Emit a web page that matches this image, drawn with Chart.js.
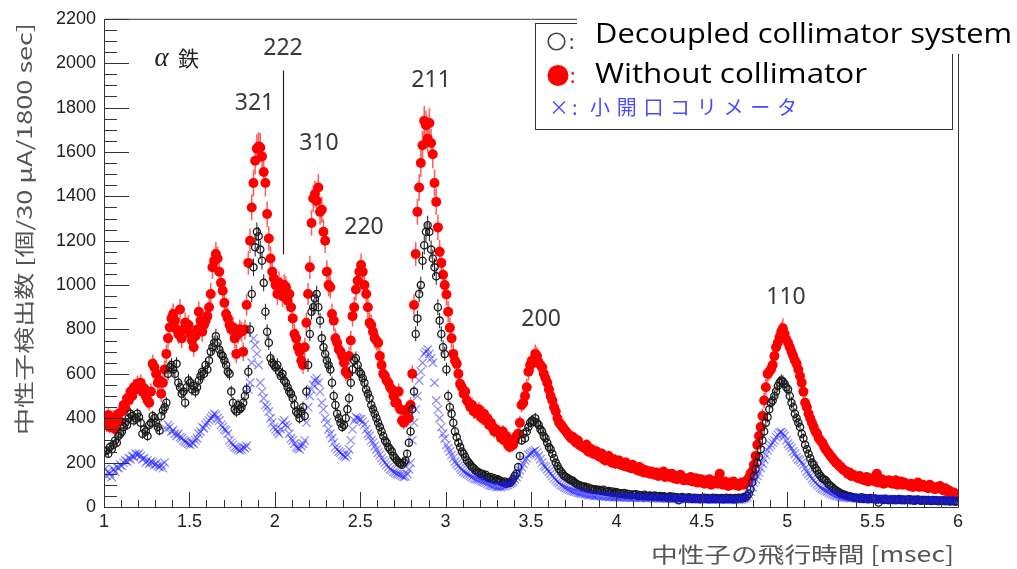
<!DOCTYPE html>
<html><head><meta charset="utf-8">
<script src="https://cdn.jsdelivr.net/npm/chart.js@4.4.1/dist/chart.umd.min.js"></script>
<style>html,body{margin:0;padding:0;background:#fff}canvas{display:block}</style>
</head><body>
<canvas id="c" width="1017" height="569"></canvas>
<script>
// ---- Data (histogram bins of 0.01 msec starting at 1.00 msec) ----
const binStart = 1.00;
const binWidth = 0.01;
const xTickValues = [1, 1.5, 2, 2.5, 3, 3.5, 4, 4.5, 5, 5.5, 6];
const yTickValues = [0, 200, 400, 600, 800, 1000, 1200, 1400, 1600, 1800, 2000, 2200];
const seriesNames = ['Decoupled collimator system', 'Without collimator', '小開口コリメータ'];
const peakLabels = ['222', '321', '310', '220', '211', '200', '110'];
const peakLabelX = [2.048, 1.881, 2.259, 2.522, 2.915, 3.559, 4.993];
const peakLabelY = [2039, 1788, 1608, 1228, 1891, 815, 914];

const withoutCollimator = [
400,370,415,360,390,405,350,395,420,385,
430,460,445,490,480,520,500,540,530,555,
545,560,520,535,500,480,470,520,645,630,
600,560,570,510,560,620,690,760,810,850,
870,840,800,780,890,760,800,830,810,820,
780,750,720,770,800,880,840,790,820,840,
860,900,960,1080,1110,1140,1120,1060,1010,975,
920,870,850,820,800,810,760,690,780,800,
790,700,800,910,1100,1200,1350,1460,1560,1615,
1625,1620,1580,1510,1460,1320,1210,1120,1060,1030,
1000,960,1010,985,950,1000,990,930,960,900,
850,780,760,720,700,660,640,720,830,960,
1080,1280,1390,1410,1380,1440,1330,1340,1240,1200,
1060,1000,990,870,840,760,740,710,700,680,
650,610,600,680,750,860,900,980,1020,1060,
1090,1060,1000,960,900,830,820,790,760,750,
740,680,640,600,590,570,560,540,530,500,
470,470,520,440,390,380,430,440,400,460,
600,910,1140,1330,1440,1550,1630,1740,1720,1660,
1730,1640,1590,1460,1375,1260,1150,1100,1047,1000,
958,880,808,760,690,660,645,600,555,540,
510,520,480,470,450,460,430,440,420,440,
410,400,420,390,400,370,380,360,340,350,
340,330,310,340,300,320,280,270,300,280,
300,320,330,380,460,470,500,540,610,640,
660,650,690,680,650,640,630,600,580,560,
530,500,480,450,430,400,380,370,360,350,
340,330,320,310,315,300,290,300,280,275,
270,265,280,250,255,260,240,245,250,230,
225,240,215,210,220,230,205,200,215,195,
200,210,190,195,185,200,180,185,175,190,
175,170,165,180,160,170,155,165,160,150,
160,150,145,155,140,150,145,160,135,150,
140,135,150,130,140,125,135,145,130,120,
130,125,120,135,115,125,130,110,120,125,
115,105,120,110,125,100,115,110,120,105,
150,110,100,115,105,95,110,100,115,100,
100,95,105,110,100,115,110,130,150,160,
190,230,280,320,360,410,480,540,600,610,
620,640,680,720,740,765,790,805,780,755,
740,720,700,680,660,645,620,590,560,520,
470,450,420,400,380,360,340,330,310,300,
290,275,260,250,240,230,220,210,200,195,
185,180,170,165,160,150,155,140,145,140,
135,130,140,125,130,120,135,115,125,130,
120,115,150,110,120,125,105,115,110,120,
115,105,110,120,100,105,115,100,110,105,
100,95,105,90,100,95,110,90,95,100,
90,95,85,100,90,85,80,90,85,95,
80,75,85,70,75,70,60,65,55,50
];

const decoupled = [
250,255,240,270,260,280,300,290,320,330,
340,360,380,370,400,420,410,390,400,420,
405,380,330,350,340,320,370,380,410,400,
380,360,345,410,435,450,470,600,630,640,
620,600,645,560,540,510,520,470,540,570,
560,530,545,520,540,570,590,610,600,640,
620,660,700,720,740,770,740,710,690,680,
660,640,610,600,520,470,440,430,460,440,
450,470,500,530,610,800,960,1080,1170,1240,
1220,1160,1110,1010,880,790,740,670,650,640,
630,640,610,590,600,570,560,540,520,510,
490,460,430,420,400,430,450,410,520,640,
780,880,900,940,960,900,840,760,720,690,
660,640,620,560,500,460,420,400,380,360,
370,400,440,490,560,620,660,670,640,610,
600,580,560,530,510,490,460,440,420,400,
380,360,340,320,300,290,270,260,250,230,
220,210,200,195,190,200,210,240,290,340,
440,520,780,850,960,1000,1110,1180,1240,1270,
1240,1160,1120,1080,1040,900,840,780,720,690,
620,500,450,420,380,340,315,290,270,250,
240,225,210,200,190,180,175,165,160,155,
150,150,140,145,135,130,135,125,130,120,
125,120,115,110,115,105,110,108,115,125,
140,150,180,230,300,330,310,340,360,380,
390,385,400,380,370,350,340,320,310,290,
270,260,240,220,200,185,170,160,150,140,
135,130,125,120,118,110,105,100,98,95,
90,92,85,88,80,82,78,80,75,78,
75,72,78,70,68,72,65,70,62,68,
65,60,62,58,63,55,60,58,52,56,
55,58,50,54,52,48,55,50,47,52,
50,46,52,48,45,50,44,48,46,42,
45,48,42,46,40,44,30,42,45,40,
42,38,44,40,36,42,38,40,35,40,
38,42,36,40,35,38,42,36,40,38,
36,40,35,38,42,36,40,38,35,40,
38,42,40,38,45,42,50,60,80,110,
140,170,200,225,260,300,340,380,405,440,
470,480,500,520,545,560,570,565,555,540,
530,500,470,450,420,400,380,360,330,310,
280,260,240,220,200,190,175,165,150,140,
130,125,120,110,100,95,88,80,75,70,
65,60,58,55,52,50,48,46,44,42,
42,40,38,44,36,40,38,35,40,37,
36,38,34,20,36,35,32,37,34,30,
34,32,35,30,33,36,31,34,30,33,
32,35,30,33,28,32,34,30,28,31,
30,28,32,29,27,31,28,30,26,29,
28,30,26,29,27,25,28,26,24,27
];

const smallAperture = [
170,140,160,150,135,170,160,180,175,190,
185,200,210,205,220,215,230,225,240,235,
240,230,215,220,200,210,195,205,200,190,
195,185,180,190,175,200,350,370,360,340,
345,330,320,330,315,310,300,295,290,285,
280,290,285,300,310,330,340,360,355,370,
380,390,400,410,420,415,400,390,370,360,
350,345,330,300,290,280,270,265,260,255,
260,270,265,275,530,560,650,760,730,690,
640,560,520,490,460,450,430,400,380,360,
350,340,330,350,380,390,370,360,330,310,
300,285,270,265,260,275,285,300,380,450,
500,530,550,570,580,560,520,470,440,400,
380,350,330,310,290,270,260,250,245,235,
230,225,235,260,300,350,390,405,400,395,
395,385,370,350,330,320,300,290,275,260,
245,235,220,210,200,190,180,170,165,158,
155,150,148,145,140,136,138,150,170,200,
300,380,440,500,570,610,650,690,700,710,
690,670,650,560,480,440,400,360,330,310,
280,265,250,235,220,205,195,185,175,168,
160,155,150,145,140,135,130,127,125,122,
120,115,112,110,105,100,98,95,95,92,
90,92,90,95,93,98,100,105,108,115,
125,135,150,165,180,195,210,220,235,240,
245,250,255,245,230,215,200,185,180,170,
160,150,140,130,122,115,108,100,95,90,
86,82,78,75,72,70,68,65,63,62,
60,58,57,55,54,55,52,50,52,50,
50,48,49,47,48,46,45,47,44,46,
45,44,46,43,45,42,44,43,41,44,
43,42,44,41,40,43,42,40,41,42,
40,42,39,41,40,38,41,39,40,38,
39,40,38,37,39,38,36,38,37,39,
38,36,37,39,35,37,38,36,35,37,
36,35,37,34,36,35,34,36,33,35,
35,34,33,36,34,33,35,32,34,33,
34,33,35,34,38,40,45,55,70,90,
110,125,140,155,175,195,215,235,255,270,
280,290,300,315,325,335,338,330,320,300,
285,275,265,250,240,225,215,210,200,190,
175,160,150,140,128,120,110,102,95,88,
82,78,74,70,66,62,58,55,52,50,
48,46,45,44,42,43,41,40,42,40,
39,40,38,37,39,36,38,37,36,38,
37,36,35,37,34,36,35,34,36,33,
35,34,33,35,32,34,33,32,34,31,
33,32,34,31,33,30,32,31,33,30,
32,30,31,29,31,30,28,30,29,31,
30,29,31,28,30,29,27,29,28,30
];

// bin centres
const tof = withoutCollimator.map((_, i) => +(binStart + binWidth * (i + 0.5)).toFixed(3));
const toPoints = arr => arr.map((v, i) => ({ x: tof[i], y: v }));

// ---- helpers ----
function fitText(ctx, text, x, y, width, align) {
  ctx.save();
  const nat = ctx.measureText(text).width;
  const s = width / nat;
  ctx.translate(x, y);
  ctx.scale(s, 1);
  ctx.textAlign = align || 'left';
  ctx.fillText(text, 0, 0);
  ctx.restore();
}

const errorBars = {
  id: 'errorBars',
  beforeDatasetDraw(chart, args) {
    const ds = chart.data.datasets[args.index];
    if (!ds.errScale) return;
    const ctx = chart.ctx, ys = chart.scales.y, a = chart.chartArea;
    ctx.save();
    ctx.beginPath(); ctx.rect(a.left, a.top, a.right - a.left, a.bottom - a.top); ctx.clip();
    ctx.strokeStyle = ds.errColor; ctx.lineWidth = ds.errWidth;
    ctx.beginPath();
    args.meta.data.forEach((pt, i) => {
      const v = ds.data[i].y, e = ds.errScale * Math.sqrt(v);
      ctx.moveTo(pt.x, ys.getPixelForValue(v - e));
      ctx.lineTo(pt.x, ys.getPixelForValue(v + e));
    });
    ctx.stroke();
    ctx.restore();
  }
};

const frame = {
  id: 'frame',
  afterDatasetsDraw(chart) {
    const ctx = chart.ctx, a = chart.chartArea, xs = chart.scales.x, ys = chart.scales.y;
    ctx.save();
    ctx.strokeStyle = '#333'; ctx.lineWidth = 1;
    ctx.beginPath();
    ctx.moveTo(a.left + 0.5, a.top + 0.5); ctx.lineTo(a.left + 0.5, a.bottom + 0.5);
    ctx.lineTo(a.right + 0.5, a.bottom + 0.5); ctx.lineTo(a.right + 0.5, a.top + 0.5);
    ctx.lineTo(a.left + 0.5, a.top + 0.5);
    for (let v = 0; v <= 2200; v += 50) {
      const yy = Math.round(ys.getPixelForValue(v)) + 0.5;
      const len = (v % 200 === 0) ? 25 : 13;
      ctx.moveTo(a.left, yy); ctx.lineTo(a.left + len, yy);
    }
    for (let k = 10; k <= 60; k++) {
      const xx = Math.round(xs.getPixelForValue(k / 10)) + 0.5;
      const len = (k % 5 === 0) ? 15 : 7;
      ctx.moveTo(xx, a.bottom); ctx.lineTo(xx, a.bottom - len);
    }
    ctx.stroke();
    ctx.restore();
  },
  afterDraw(chart) {
    const ctx = chart.ctx, xs = chart.scales.x, ys = chart.scales.y;
    ctx.save();
    ctx.fillStyle = '#383838';
    ctx.font = '23px "Noto Sans"';
    ctx.textAlign = 'center'; ctx.textBaseline = 'alphabetic';
    peakLabels.forEach((t, i) => ctx.fillText(t, xs.getPixelForValue(peakLabelX[i]), ys.getPixelForValue(peakLabelY[i])));
    ctx.strokeStyle = '#222'; ctx.lineWidth = 1.2;
    ctx.beginPath();
    const lx = Math.round(xs.getPixelForValue(2.05)) + 0.5;
    ctx.moveTo(lx, ys.getPixelForValue(1967)); ctx.lineTo(lx, ys.getPixelForValue(1138));
    ctx.stroke();
    ctx.fillStyle = '#222'; ctx.textAlign = 'left'; ctx.textBaseline = 'middle';
    ctx.font = 'italic 27px "Liberation Serif"';
    ctx.fillText('α', xs.getPixelForValue(1.296), ys.getPixelForValue(2020));
    ctx.font = '21px "Noto Sans CJK JP"';
    ctx.fillText('鉄', xs.getPixelForValue(1.433), ys.getPixelForValue(2025));

    ctx.fillStyle = '#555';
    ctx.font = '20px "Noto Sans CJK JP"';
    ctx.textBaseline = 'middle';
    ctx.save();
    ctx.translate(24, 229); ctx.rotate(-Math.PI / 2);
    fitText(ctx, '中性子検出数 [個/30 μA/1800 sec]', 0, 0, 412, 'center');
    ctx.restore();
    ctx.font = '21px "Noto Sans CJK JP"';
    fitText(ctx, '中性子の飛行時間 [msec]', 954, 554, 303, 'right');

    ctx.fillStyle = '#fff';
    ctx.fillRect(535, 23, 418, 107);
    ctx.strokeStyle = '#333'; ctx.lineWidth = 1;
    ctx.strokeRect(535.5, 23.5, 417, 106);
    ctx.fillStyle = '#fff';
    ctx.fillRect(577, 0, 440, 54);
    ctx.strokeStyle = '#444'; ctx.lineWidth = 1.6;
    ctx.beginPath(); ctx.arc(556.5, 41.5, 8.3, 0, Math.PI * 2); ctx.stroke();
    ctx.fillStyle = '#444'; ctx.textBaseline = 'alphabetic'; ctx.textAlign = 'left';
    ctx.font = '20px "Noto Sans"';
    ctx.fillText(':', 569, 49);
    ctx.fillStyle = '#000';
    ctx.font = '27px "Open Sans"';
    fitText(ctx, seriesNames[0], 595, 43, 417, 'left');
    ctx.fillStyle = '#ff0000';
    ctx.beginPath(); ctx.arc(558, 75.5, 10.5, 0, Math.PI * 2); ctx.fill();
    ctx.font = '20px "Noto Sans"';
    ctx.fillText(':', 570, 83);
    ctx.fillStyle = '#000';
    ctx.font = '27px "Open Sans"';
    fitText(ctx, seriesNames[1], 595, 83, 272, 'left');
    ctx.fillStyle = '#4a4aff';
    ctx.font = '20px "Noto Sans CJK JP"';
    ctx.textBaseline = 'middle';
    ctx.fillText('×', 549, 107);
    ctx.fillText(':', 572, 107);
    const chars = Array.from(seriesNames[2]);
    chars.forEach((c, i) => {
      const w = ctx.measureText(c).width;
      ctx.fillText(c, 590 + i * 26.7 + (20 - w) / 2, 107);
    });
    ctx.restore();
  }
};

new Chart(document.getElementById('c'), {
  type: 'scatter',
  data: {
    datasets: [
      { label: seriesNames[2], data: toPoints(smallAperture), pointStyle: 'crossRot', pointRadius: 6,
        borderColor: 'rgba(20,20,255,0.5)', backgroundColor: 'rgba(20,20,255,0.5)', borderWidth: 1.2, order: 0 },
      { label: seriesNames[0], data: toPoints(decoupled), pointStyle: 'circle', pointRadius: 3.6,
        borderColor: '#1a1a1a', backgroundColor: 'rgba(0,0,0,0)', borderWidth: 1.3, order: 1,
        errScale: 1.2, errColor: '#1a1a1a', errWidth: 1 },
      { label: seriesNames[1], data: toPoints(withoutCollimator), pointStyle: 'circle', pointRadius: 5,
        borderColor: '#ff0000', backgroundColor: '#ff0000', borderWidth: 0, order: 2,
        errScale: 1.6, errColor: 'rgba(255,40,40,0.75)', errWidth: 1.5 }
    ]
  },
  options: {
    responsive: false, animation: false, events: [],
    layout: { padding: { top: 16, right: 59, left: 0, bottom: 0 } },
    plugins: { legend: { display: false }, tooltip: { enabled: false } },
    scales: {
      x: {
        type: 'linear', min: 1, max: 6,
        grid: { display: false, drawTicks: false }, border: { display: false },
        afterBuildTicks: s => { s.ticks = xTickValues.map(v => ({ value: v })); },
        afterFit: s => { s.height = 62; },
        ticks: { font: { family: 'Liberation Sans', size: 18 }, color: '#222', padding: 4,
                 maxRotation: 0, autoSkip: false, callback: v => String(v) }
      },
      y: {
        min: 0, max: 2200,
        grid: { display: false, drawTicks: false }, border: { display: false },
        afterBuildTicks: s => { s.ticks = yTickValues.map(v => ({ value: v })); },
        afterFit: s => { s.width = 104; },
        ticks: { font: { family: 'Liberation Sans', size: 18 }, color: '#222', padding: 8,
                 autoSkip: false, callback: v => String(v) }
      }
    }
  },
  plugins: [errorBars, frame]
});
</script>
</body></html>
